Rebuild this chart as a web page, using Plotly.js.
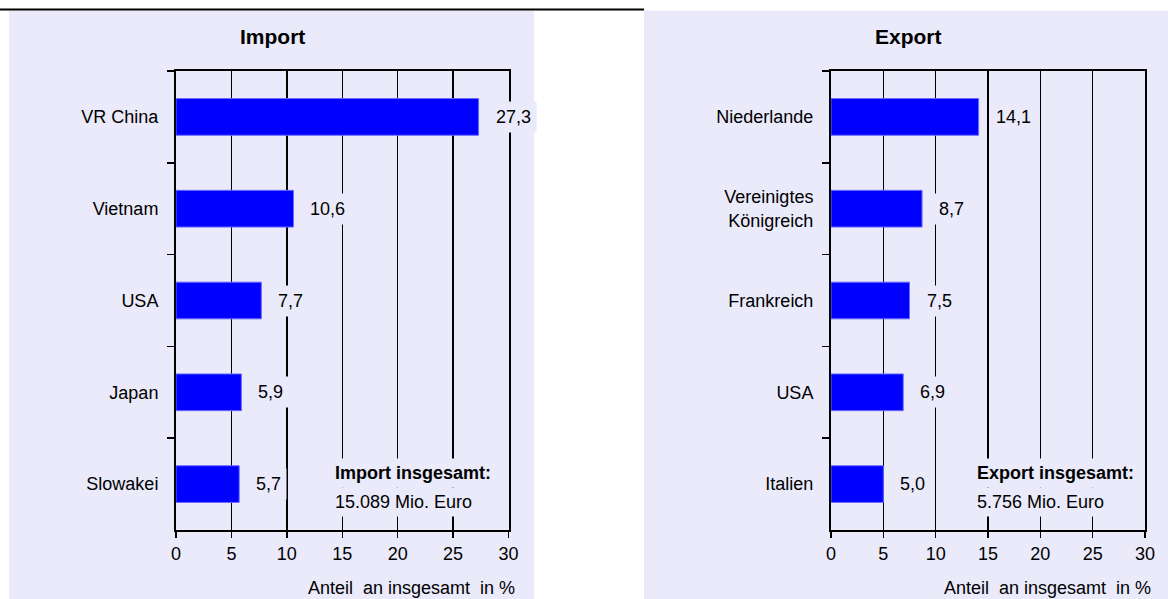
<!DOCTYPE html>
<html><head><meta charset="utf-8">
<script src="https://cdn.plot.ly/plotly-3.0.1.min.js"></script>
<style>html,body{margin:0;padding:0;background:#fff}#chart{width:1168px;height:599px}</style>
</head><body><div id="chart"></div>
<script>
// ---- data ----
const importCountries = ['VR China', 'Vietnam', 'USA', 'Japan', 'Slowakei'];
const importShares = [27.3, 10.6, 7.7, 5.9, 5.7];
const exportCountries = ['Niederlande', 'Vereinigtes<br>Königreich', 'Frankreich', 'USA', 'Italien'];
const exportShares = [14.1, 8.7, 7.5, 6.9, 5.0];
const xTickValues = [0, 5, 10, 15, 20, 25, 30];
const importTitle = 'Import';
const exportTitle = 'Export';
const importTotalText = ['Import insgesamt:', '15.089 Mio. Euro'];
const exportTotalText = ['Export insgesamt:', '5.756 Mio. Euro'];
const axisTitleText = 'Anteil  an insgesamt  in %';

// ---- style ----
const W = 1168, H = 599;
const px = v => v / W;
const py = v => 1 - v / H;
const PANEL = '#EAEAFB';
const FONT = '"Liberation Sans", Arial, sans-serif';
const FS = 18;
const fmt = v => v.toFixed(1).replace('.', ',');

function barTrace(cats, vals, xa, ya) {
  return {
    type: 'bar', orientation: 'h', x: vals, y: cats, xaxis: xa, yaxis: ya,
    width: 0.4,
    marker: {color: '#0000FF', line: {color: '#6a6aff', width: 1}},
    hoverinfo: 'skip'
  };
}

function xAxis(domain, anchor) {
  return {
    domain: domain, anchor: anchor, range: [0, 30], tickvals: xTickValues,
    ticks: 'outside', ticklen: 6, tickwidth: 1.5, tickcolor: '#000',
    showline: true, linewidth: 2, linecolor: '#000', mirror: true,
    showgrid: true, gridcolor: '#000', gridwidth: 1.5, zeroline: false,
    tickfont: {family: FONT, size: FS, color: '#000'}, fixedrange: true, automargin: false
  };
}
function yAxis(anchor) {
  return {
    domain: [py(530), py(71)], anchor: anchor, type: 'category', autorange: 'reversed',
    tickson: 'boundaries', ticks: 'outside', ticklen: 7, tickwidth: 1.5, tickcolor: '#000',
    showline: true, linewidth: 2, linecolor: '#000', mirror: true,
    showgrid: false, zeroline: false, ticklabelstandoff: 12,
    tickfont: {family: FONT, size: FS, color: '#000'}, fixedrange: true, automargin: false
  };
}

function valueLabels(cats, vals, xr, yr) {
  return cats.map((c, i) => ({
    xref: xr, yref: yr, x: vals[i], y: c, text: fmt(vals[i]),
    xanchor: 'left', yanchor: 'middle', xshift: 11, showarrow: false,
    bgcolor: PANEL, borderpad: 5, font: {family: FONT, size: FS, color: '#000'}
  }));
}

function paperText(x, y, text, anchor, opts) {
  return Object.assign({
    xref: 'paper', yref: 'paper', x: px(x), y: py(y), text: text,
    showarrow: false, xanchor: anchor, yanchor: 'middle',
    font: {family: FONT, size: FS, color: '#000'}
  }, opts || {});
}

const annotations = [
  ...valueLabels(importCountries, importShares, 'x', 'y'),
  ...valueLabels(exportCountries, exportShares, 'x2', 'y2'),
  paperText(272, 37, '<b>' + importTitle + '</b>', 'center', {font: {family: FONT, size: 21, color: '#000'}}),
  paperText(908, 37, '<b>' + exportTitle + '</b>', 'center', {font: {family: FONT, size: 21, color: '#000'}}),
  paperText(330, 502, importTotalText[1], 'left', {bgcolor: PANEL, borderpad: 4, align: 'left'}),
  paperText(330, 473, '<b>' + importTotalText[0] + '</b>', 'left', {bgcolor: PANEL, borderpad: 4, align: 'left'}),
  paperText(972, 502, exportTotalText[1], 'left', {bgcolor: PANEL, borderpad: 4, align: 'left'}),
  paperText(972, 473, '<b>' + exportTotalText[0] + '</b>', 'left', {bgcolor: PANEL, borderpad: 4, align: 'left'}),
  paperText(517, 588, axisTitleText, 'right'),
  paperText(1153, 588, axisTitleText, 'right')
];

const shapes = [
  {type: 'rect', xref: 'paper', yref: 'paper', x0: px(9), x1: px(534), y0: 0, y1: py(10.5),
   fillcolor: PANEL, line: {width: 0}, layer: 'below'},
  {type: 'rect', xref: 'paper', yref: 'paper', x0: px(644), x1: 1, y0: 0, y1: py(10.5),
   fillcolor: PANEL, line: {width: 0}, layer: 'below'},
  {type: 'line', xref: 'paper', yref: 'paper', x0: 0, x1: px(644), y0: py(9.5), y1: py(9.5),
   line: {color: '#000', width: 2}, layer: 'below'}
];

const layout = {
  width: W, height: H, margin: {l: 0, r: 0, t: 0, b: 0},
  paper_bgcolor: '#fff', plot_bgcolor: 'rgba(0,0,0,0)', showlegend: false,
  font: {family: FONT, size: FS, color: '#000'},
  xaxis: xAxis([px(176), px(508.5)], 'y'),
  yaxis: yAxis('x'),
  xaxis2: xAxis([px(831), px(1145)], 'y2'),
  yaxis2: yAxis('x2'),
  annotations: annotations, shapes: shapes
};

Plotly.newPlot('chart', [
  barTrace(importCountries, importShares, 'x', 'y'),
  barTrace(exportCountries, exportShares, 'x2', 'y2')
], layout, {displayModeBar: false, staticPlot: true});
</script></body></html>
